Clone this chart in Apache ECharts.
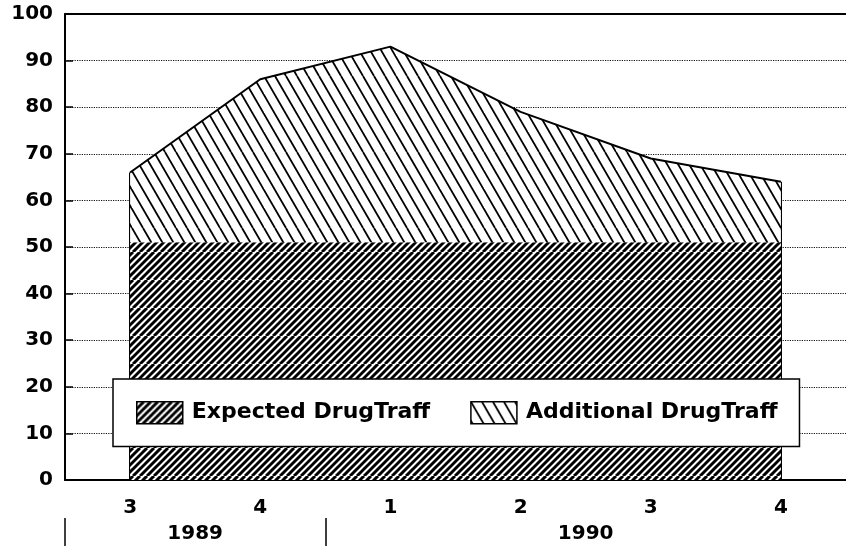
<!DOCTYPE html>
<html>
<head>
<meta charset="utf-8">
<script src="https://cdn.jsdelivr.net/npm/echarts@6/dist/echarts.min.js"></script>
<style>
  html, body { margin: 0; padding: 0; background: #fff; }
  #chart { width: 846px; height: 546px; }
</style>
</head>
<body>
<div id="chart"></div>
<script>
// 数据
const quarters = ['3', '4', '1', '2', '3', '4'];
const years = ['1989', '1990'];
const yearCenters = [0.5, 3.5];      // 年份标签位置（按季度索引）
const yearDividers = [-0.5, 1.5];    // 年份分隔线
const expected = [51, 51, 51, 51, 51, 51];
const additional = [15, 35, 42, 28, 18, 13];
const yTicks = [0, 10, 20, 30, 40, 50, 60, 70, 80, 90, 100];

const totals = expected.map((v, i) => v + additional[i]);
const last = quarters.length - 1;

// 斜线填充
function hatch(period, slope, lw, dir) {
  const w = period * 4;
  const h = Math.round(period * slope) * 4;
  const c = document.createElement('canvas');
  c.width = w; c.height = h;
  const ctx = c.getContext('2d');
  ctx.fillStyle = '#fff';
  ctx.fillRect(0, 0, w, h);
  ctx.strokeStyle = '#000';
  ctx.lineWidth = lw;
  ctx.lineCap = 'butt';
  for (let k = -5; k <= 5; k++) {
    ctx.beginPath();
    if (dir === '/') {
      ctx.moveTo(k * period, h);
      ctx.lineTo(k * period + w, 0);
    } else {
      ctx.moveTo(k * period, 0);
      ctx.lineTo(k * period + w, h);
    }
    ctx.stroke();
  }
  return { image: c, repeat: 'repeat' };
}

const expPattern = hatch(7, 1, 3, '/');
const addPattern = hatch(11, 1.75, 1.8, '\\');

const font = 'DejaVu Sans';
const chart = echarts.init(document.getElementById('chart'));

chart.setOption({
  animation: false,
  backgroundColor: '#fff',
  grid: { left: 65, top: 14, width: 785, height: 466 },
  legend: {
    left: 113,
    top: 379,
    z: 10,
    orient: 'horizontal',
    selectedMode: false,
    backgroundColor: '#fff',
    borderColor: '#000',
    borderWidth: 1.5,
    padding: [22, 22, 22, 23],
    itemWidth: 46,
    itemHeight: 22,
    itemGap: 40,
    textStyle: {
      fontFamily: font, fontWeight: 'bold', fontSize: 22, color: '#000',
      padding: [0, 0, 0, 4]
    },
    data: [
      { name: 'Expected DrugTraff', icon: 'rect',
        itemStyle: { color: expPattern, borderColor: '#000', borderWidth: 1.5 } },
      { name: 'Additional DrugTraff', icon: 'rect',
        itemStyle: { color: addPattern, borderColor: '#000', borderWidth: 1.5 } }
    ]
  },
  xAxis: [
    {
      type: 'category',
      data: quarters,
      boundaryGap: true,
      axisLine: { lineStyle: { color: '#000', width: 2 } },
      axisTick: { show: false },
      axisLabel: {
        color: '#000', fontFamily: font, fontWeight: 'bold', fontSize: 20, margin: 18
      }
    },
    {
      type: 'value',
      position: 'bottom',
      offset: 38,
      min: -0.5,
      max: quarters.length - 0.5,
      axisLine: { show: false, onZero: false },
      splitLine: { show: false },
      axisTick: {
        show: true, customValues: yearDividers, length: 28,
        lineStyle: { color: '#000', width: 1.5 }
      },
      axisLabel: {
        customValues: yearCenters,
        formatter: (v) => years[yearCenters.indexOf(v)] || '',
        color: '#000', fontFamily: font, fontWeight: 'bold', fontSize: 20, margin: 6
      }
    },
    {
      type: 'category',
      position: 'top',
      data: quarters,
      axisLine: { onZero: false, lineStyle: { color: '#000', width: 2 } },
      axisTick: { show: false },
      axisLabel: { show: false }
    }
  ],
  yAxis: {
    type: 'value',
    min: yTicks[0],
    max: yTicks[yTicks.length - 1],
    interval: 10,
    axisLine: { show: true, onZero: false, lineStyle: { color: '#000', width: 2 } },
    axisTick: { show: true, inside: true, length: 8, lineStyle: { color: '#000', width: 1.5 } },
    axisLabel: {
      color: '#000', fontFamily: font, fontWeight: 'bold', fontSize: 20, margin: 12
    },
    splitLine: { lineStyle: { color: '#111', type: 'dotted', width: 1.2 } }
  },
  series: [
    {
      name: 'Expected DrugTraff',
      type: 'line',
      stack: 'total',
      data: expected,
      symbol: 'none',
      lineStyle: { width: 0 },
      itemStyle: { color: '#000' },
      areaStyle: { color: expPattern, opacity: 1 }
    },
    {
      name: 'Additional DrugTraff',
      type: 'line',
      stack: 'total',
      data: additional,
      symbol: 'none',
      lineStyle: { color: '#000', width: 2 },
      itemStyle: { color: '#000' },
      areaStyle: { color: addPattern, opacity: 1 },
      markLine: {
        silent: true,
        z: 3,
        symbol: ['none', 'none'],
        label: { show: false },
        lineStyle: { color: '#000', width: 2, type: 'solid' },
        data: [
          [{ coord: [0, 0] }, { coord: [0, totals[0]] }],
          [{ coord: [last, 0] }, { coord: [last, totals[last]] }]
        ]
      }
    }
  ]
});
</script>
</body>
</html>
